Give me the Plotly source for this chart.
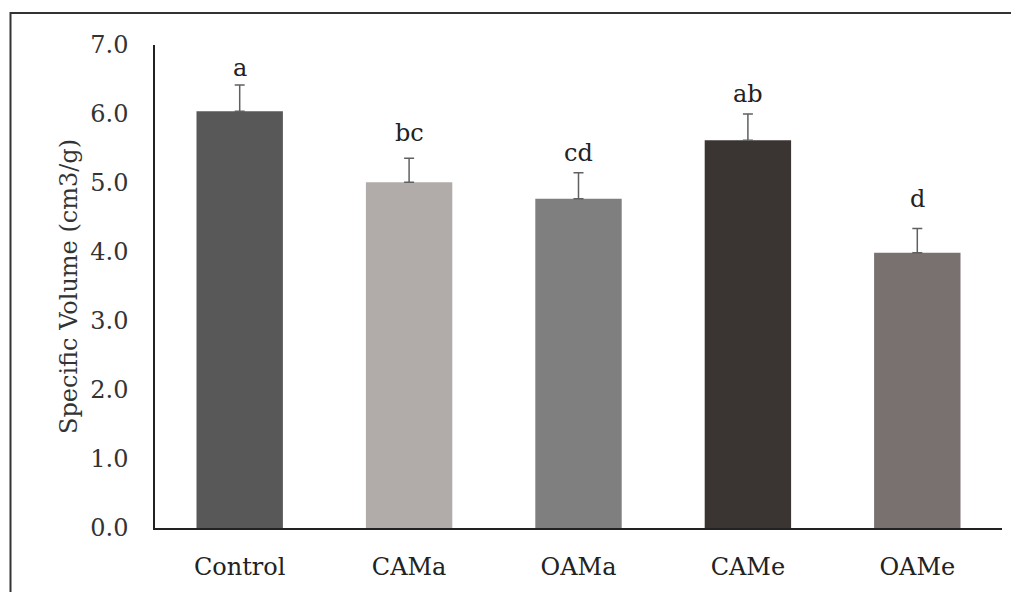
import plotly.graph_objects as go

categories = ["Control", "CAMa", "OAMa", "CAMe", "OAMe"]
values = [6.04, 5.01, 4.77, 5.62, 3.99]
errors = [0.38, 0.35, 0.38, 0.38, 0.35]
letters = ["a", "bc", "cd", "ab", "d"]
letter_y = [6.67, 5.73, 5.44, 6.29, 4.77]
colors = ["#585858", "#b1acaa", "#7f7f7f", "#3a3533", "#787170"]

FONT = "DejaVu Serif"

fig = go.Figure()
fig.add_trace(go.Bar(
    x=categories, y=values,
    marker=dict(color=colors, line=dict(width=0)),
    error_y=dict(type="data", array=errors, arrayminus=[0] * len(errors),
                 symmetric=False, color="#606060", thickness=1.5, width=5),
    width=0.51,
    showlegend=False,
))

for c, t, ly in zip(categories, letters, letter_y):
    fig.add_annotation(x=c, y=ly, text=t, showarrow=False, yanchor="middle",
                       font=dict(family=FONT, size=24, color="#222222"))

fig.add_shape(type="rect", xref="paper", yref="paper",
              x0=-0.1706, x1=1.2, y0=-0.3, y1=1.0663,
              line=dict(color="#333333", width=2), fillcolor="rgba(0,0,0,0)",
              layer="below")

fig.update_layout(
    width=1019, height=592,
    margin=dict(l=147, r=25, t=37, b=72),
    plot_bgcolor="white", paper_bgcolor="white",
    font=dict(family=FONT, size=24, color="#333333"),
    bargap=0.49,
)
fig.update_yaxes(
    range=[0, 7], dtick=1, tickformat=".1f",
    showgrid=False, zeroline=False,
    showline=True, linecolor="#222222", linewidth=1.5,
    ticks="", ticklabelstandoff=20,
    title=dict(text="Specific Volume (cm3/g)", standoff=6,
               font=dict(family=FONT, size=24, color="#333333")),
    tickfont=dict(family=FONT, size=24, color="#333333"),
)
fig.update_xaxes(
    showgrid=False, zeroline=False,
    showline=True, linecolor="#222222", linewidth=1.5,
    ticks="", ticklabelstandoff=16,
    tickfont=dict(family=FONT, size=24, color="#222222"),
)

fig.write_html("out.html")
